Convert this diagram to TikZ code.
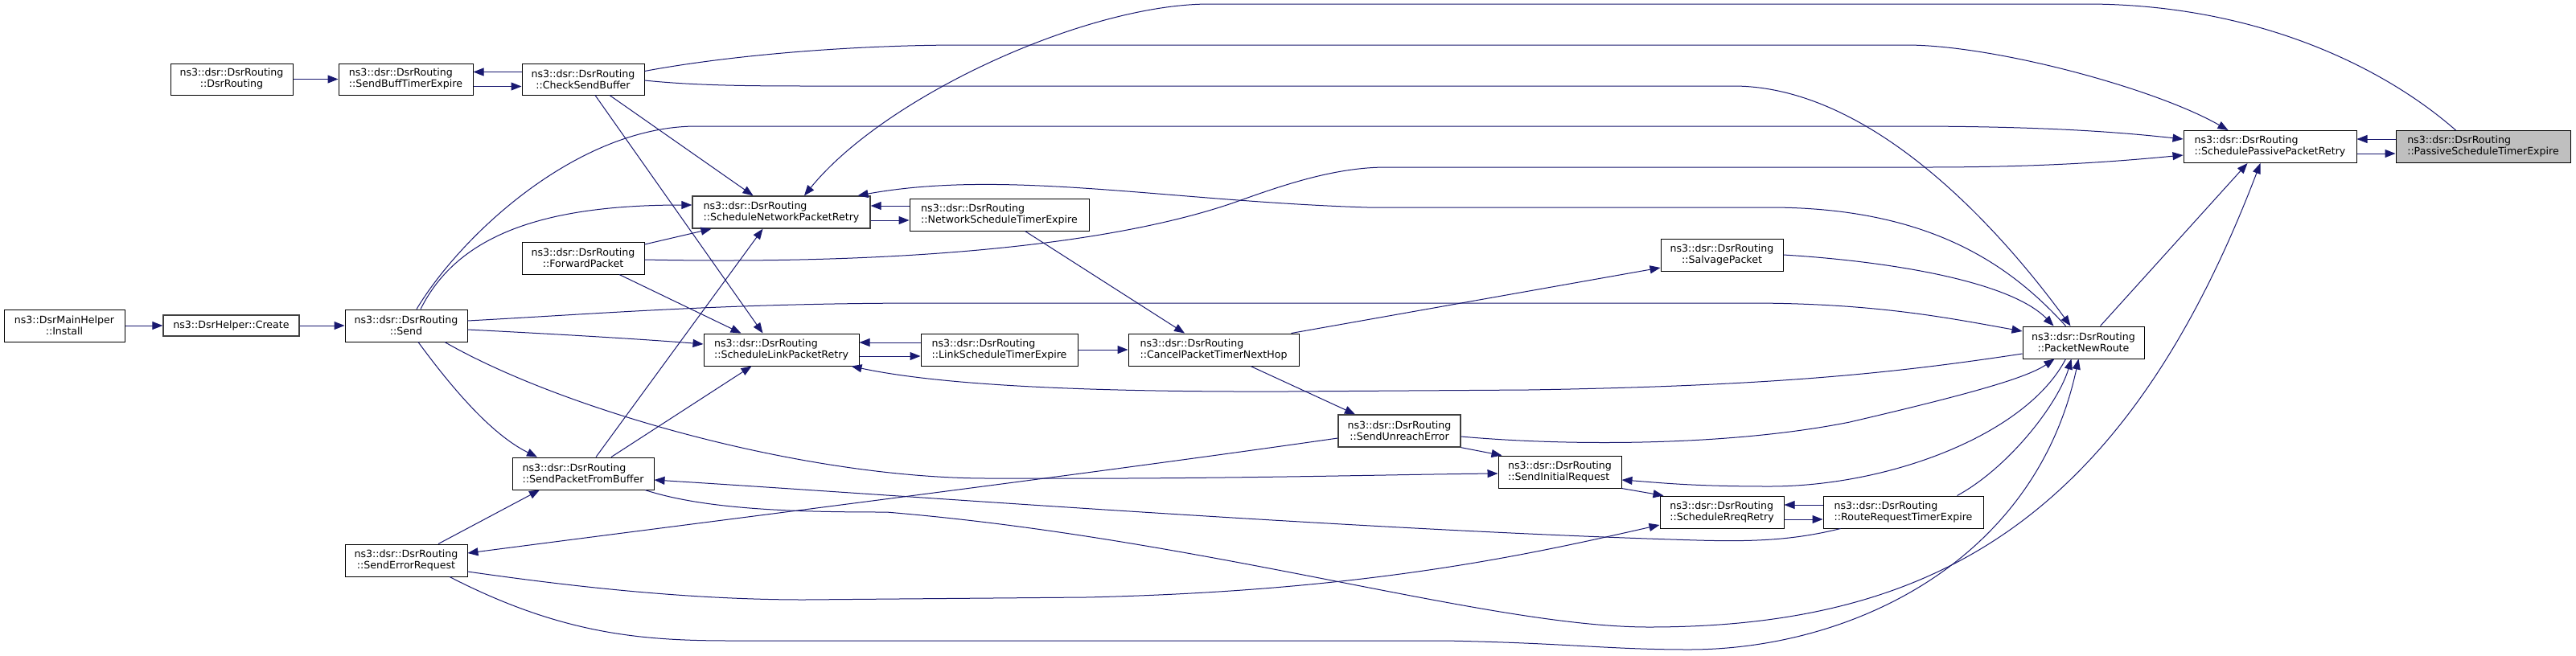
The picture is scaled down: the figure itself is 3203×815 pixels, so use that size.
\documentclass[tikz,border=0pt]{standalone}
\usepackage{fontspec}
\setmainfont{DejaVu Sans}
\usetikzlibrary{arrows.meta}
\definecolor{edgeblue}{HTML}{191970}
\definecolor{boxgray}{HTML}{BFBFBF}
\definecolor{bordergray}{HTML}{404040}
\begin{document}
\begin{tikzpicture}[x=1pt,y=-1pt,
  fn/.style={draw=black, line width=1pt, fill=white, inner sep=0pt, minimum height=40pt,
    font=\fontsize{12.6}{14}\selectfont},
  fl/.style={fn, align=left},
  fc/.style={fn, align=center},
  gb/.style={draw=bordergray, line width=1.3pt},
  callln/.style={draw=edgeblue, line width=1pt, -{Triangle[length=13pt,width=10pt]}}]
\fill[white] (0,0) rectangle (3203,815);
\useasboundingbox (0,0) rectangle (3203,815);

% nodes
\node[fc, minimum width=150pt] (inst) at (80,405) {ns3::DsrMainHelper\\::Install};
\node[fn, gb, minimum width=169pt, minimum height=26pt] (create) at (287.5,405) {ns3::DsrHelper::Create};
\node[fc, minimum width=152pt, minimum height=39pt] (ctor) at (288,98.5) {ns3::dsr::DsrRouting\\::DsrRouting};
\node[fl, minimum width=167pt, minimum height=39pt] (sbte) at (504.5,98.5) {ns3::dsr::DsrRouting\\::SendBuffTimerExpire};
\node[fc, minimum width=152pt] (send) at (505,405) {ns3::dsr::DsrRouting\\::Send};
\node[fc, minimum width=152pt] (ser) at (505,697) {ns3::dsr::DsrRouting\\::SendErrorRequest};
\node[fc, minimum width=152pt, minimum height=39pt] (csb) at (725,98.5) {ns3::dsr::DsrRouting\\::CheckSendBuffer};
\node[fc, minimum width=152pt] (fwd) at (725,321) {ns3::dsr::DsrRouting\\::ForwardPacket};
\node[fl, minimum width=176pt] (spfb) at (725,589) {ns3::dsr::DsrRouting\\::SendPacketFromBuffer};
\node[fl, gb, minimum width=221pt] (snpr) at (971.5,264) {ns3::dsr::DsrRouting\\::ScheduleNetworkPacketRetry};
\node[fl, minimum width=193pt] (slpr) at (971.5,435) {ns3::dsr::DsrRouting\\::ScheduleLinkPacketRetry};
\node[fl, minimum width=223pt] (nste) at (1242.5,267) {ns3::dsr::DsrRouting\\::NetworkScheduleTimerExpire};
\node[fl, minimum width=195pt] (lste) at (1242.5,435) {ns3::dsr::DsrRouting\\::LinkScheduleTimerExpire};
\node[fl, minimum width=212pt] (cptnh) at (1509,435) {ns3::dsr::DsrRouting\\::CancelPacketTimerNextHop};
\node[fc, gb, minimum width=152pt] (sue) at (1740,536) {ns3::dsr::DsrRouting\\::SendUnreachError};
\node[fl, minimum width=153pt] (sir) at (1939.5,587) {ns3::dsr::DsrRouting\\::SendInitialRequest};
\node[fc, minimum width=152pt] (salv) at (2141,317) {ns3::dsr::DsrRouting\\::SalvagePacket};
\node[fl, minimum width=154pt] (srr) at (2141,637) {ns3::dsr::DsrRouting\\::ScheduleRreqRetry};
\node[fl, minimum width=199pt] (rrte) at (2366.5,637) {ns3::dsr::DsrRouting\\::RouteRequestTimerExpire};
\node[fc, minimum width=151pt] (pnr) at (2590.5,426) {ns3::dsr::DsrRouting\\::PacketNewRoute};
\node[fl, minimum width=215pt] (sppr) at (2822.5,182.5) {ns3::dsr::DsrRouting\\::SchedulePassivePacketRetry};
\node[fl, minimum width=217pt, fill=boxgray] (pste) at (3087.5,182.5) {ns3::dsr::DsrRouting\\::PassiveScheduleTimerExpire};

% neighbour edges
\draw[callln] (ctor.east) -- (sbte.west);
\draw[callln] ([yshift=9pt]csb.west) -- ([yshift=9pt]sbte.east);
\draw[callln] ([yshift=-9pt]sbte.east) -- ([yshift=-9pt]csb.west);
\draw[callln] (inst.east) -- (create.west);
\draw[callln] (create.east) -- (send.west);
\draw[callln] ([yshift=11pt]nste.west) -- ([yshift=8pt]snpr.east);
\draw[callln] ([yshift=-10pt]snpr.east) -- ([yshift=-7pt]nste.west);
\draw[callln] ([yshift=9pt]lste.west) -- ([yshift=9pt]slpr.east);
\draw[callln] ([yshift=-8pt]slpr.east) -- ([yshift=-8pt]lste.west);
\draw[callln] (lste.east) -- (cptnh.west);
\draw[callln] ([yshift=9pt]rrte.west) -- ([yshift=9pt]srr.east);
\draw[callln] ([yshift=-9pt]srr.east) -- ([yshift=-9pt]rrte.west);
\draw[callln] ([yshift=9.5pt]pste.west) -- ([yshift=9.5pt]sppr.east);
\draw[callln] ([yshift=-8.5pt]sppr.east) -- ([yshift=-8.5pt]pste.west);

% long edges
\draw[callln] ([yshift=10pt]csb.east) .. controls (900,70) and (1050,56) .. (1198,56) -- (2370,56) .. controls (2480,56) and (2680,110) .. ([xshift=-52pt]sppr.north);
\draw[callln] ([yshift=-1.5pt]csb.east) .. controls (860,106) and (920,107) .. (1006,107) -- (2155,107) .. controls (2330,107) and (2490,290) .. ([xshift=-16pt]pnr.north);
\draw[callln] ([xshift=33pt]csb.south) -- ([xshift=-35pt]snpr.north);
\draw[callln] ([xshift=15pt]csb.south) -- ([xshift=-23pt]slpr.north);
\draw[callln] ([xshift=13pt]send.north) .. controls (575,290) and (720,157) .. (866,157) -- (2370,157) .. controls (2550,157) and (2640,165) .. ([yshift=9.5pt]sppr.west);
\draw[callln] ([xshift=-34pt]pste.north) .. controls (2960,80) and (2800,5) .. (2594,5) -- (1504,5) .. controls (1350,5) and (1100,120) .. ([xshift=28.5pt]snpr.north);
\draw[callln] ([yshift=-2pt]fwd.east) .. controls (1150,330) and (1400,300) .. (1540,250) .. controls (1596,230) and (1660,208) .. (1724,208) -- (2395,208) .. controls (2550,208) and (2640,200) .. ([yshift=-10.5pt]sppr.west);
\draw[callln] ([xshift=-22pt]pnr.north) .. controls (2500,330) and (2400,258) .. (2200,258) -- (1700,258) .. controls (1450,250) and (1250,210) .. ([xshift=95pt]snpr.north);
\draw[callln] ([xshift=18pt]send.north) .. controls (570,290) and (680,255) .. ([yshift=9pt]snpr.west);
\draw[callln] ([yshift=17pt]fwd.east) -- ([xshift=-87pt]snpr.south);
\draw[callln] ([xshift=45pt]fwd.south) -- ([xshift=-50pt]slpr.north);
\draw[callln] ([yshift=6pt]send.east) .. controls (750,390) and (900,377) .. (1157,377) -- (2174,377) .. controls (2330,377) and (2420,395) .. ([yshift=14pt]pnr.west);
\draw[callln] ([yshift=-5pt]send.east) .. controls (700,416) and (800,422) .. ([yshift=7pt]slpr.west);
\draw[callln] ([xshift=16pt]spfb.north) -- ([xshift=-23pt]snpr.south);
\draw[callln] ([xshift=35pt]spfb.north) -- ([xshift=-37pt]slpr.south);
\draw[callln] ([xshift=48pt]send.south) .. controls (700,510) and (1000,595) .. (1229,595) -- (1400,595) .. controls (1600,594) and (1750,590) .. ([yshift=-2pt]sir.west);
\draw[callln] ([xshift=-78pt]rrte.south) .. controls (2230,672) and (2180,674) .. (2110,672) .. controls (1700,660) and (1150,618) .. ([yshift=-8pt]spfb.east);
\draw[callln] ([xshift=40pt]ser.north) -- ([xshift=-54pt]spfb.south);
\draw[callln] ([yshift=-9pt]sue.west) .. controls (1350,590) and (950,640) .. ([yshift=9pt]ser.east);
\draw[callln] ([yshift=-14pt]ser.east) .. controls (700,728) and (850,746) .. (1000,746) -- (1350,743) .. controls (1700,735) and (1900,690) .. ([yshift=-16pt]srr.west);
\draw[callln] ([xshift=54pt]ser.south) .. controls (700,790) and (800,797) .. (910,797) -- (1797,797) .. controls (1950,800) and (2000,808) .. (2100,808) .. controls (2300,808) and (2530,700) .. ([xshift=-6pt]pnr.south);
\draw[callln] ([xshift=77pt]spfb.south) .. controls (880,635) and (1000,637) .. (1102,637) .. controls (1500,670) and (1850,780) .. (2050,780) .. controls (2400,780) and (2640,650) .. ([xshift=-12pt]sppr.south);
\draw[callln] ([yshift=-14pt]pnr.west) .. controls (2350,465) and (2200,480) .. (1900,485) -- (1600,487) .. controls (1300,488) and (1150,475) .. ([xshift=-10pt]slpr.south east);
\draw[callln] ([xshift=-22pt]pnr.south) .. controls (2520,540) and (2350,605) .. (2200,605) .. controls (2100,605) and (2060,600) .. ([yshift=-10pt]sir.east);
\draw[callln] ([yshift=-7pt]sue.east) .. controls (1950,555) and (2150,555) .. (2300,525) .. controls (2450,490) and (2520,470) .. ([xshift=-36pt]pnr.south);
\draw[callln] ([xshift=67pt]rrte.north) .. controls (2500,580) and (2560,500) .. ([xshift=-15pt]pnr.south);
\draw[callln] ([xshift=21pt]pnr.north) -- ([xshift=-28pt]sppr.south);
\draw[callln] (salv.east) .. controls (2350,325) and (2500,350) .. ([xshift=-37pt]pnr.north);
\draw[callln] ([xshift=-10pt]cptnh.north east) -- ([yshift=-16pt]salv.west);
\draw[callln] ([xshift=46pt]cptnh.south) -- ([xshift=-55pt]sue.north);
\draw[callln] ([xshift=32pt]nste.south) -- ([xshift=-36pt]cptnh.north);
\draw[callln] (sue.south east) -- ([xshift=5pt]sir.north west);
\draw[callln] (sir.south east) -- ([xshift=5pt]srr.north west);
\draw[callln] ([xshift=15pt]send.south) .. controls (560,480) and (610,540) .. ([xshift=-57pt]spfb.north);
\end{tikzpicture}
\end{document}
